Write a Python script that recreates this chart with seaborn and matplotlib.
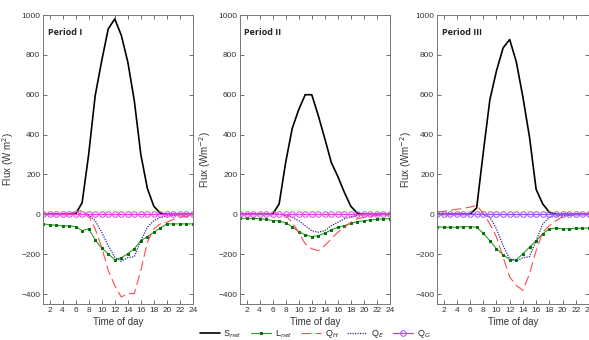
#!/usr/bin/env python3

import pandas as pd
import seaborn as sns
import matplotlib.pyplot as plt

hours = list(range(1, 25))
periods = ["Period I", "Period II", "Period III"]
ylabels = ["Flux (W m$^2$)", "Flux (Wm$^{-2}$)", "Flux (Wm$^{-2}$)"]

# Period I
s_net_1 = [0, 0, 0, 0, 0, 2, 58, 300, 595, 770, 930, 980, 899, 765, 570, 300, 130, 40, 5, 0, 0, 0, 0, 0]
l_net_1 = [-48, -52, -55, -58, -58, -62, -82, -73, -128, -170, -198, -228, -218, -198, -173, -132, -112, -90, -68, -48, -48, -48, -48, -48]
q_h_1 = [0, 0, 2, 4, 6, 12, 20, -7, -73, -165, -282, -357, -415, -398, -398, -282, -140, -73, -48, -40, -25, -15, -10, -5]
q_e_1 = [0, 0, 0, 0, 0, 0, 0, -3, -32, -90, -157, -215, -235, -218, -212, -132, -65, -32, -15, -8, -5, -3, -2, -1]
q_g_1 = [0] * 24

# Period II
s_net_2 = [0, 0, 0, 0, 0, 0, 52, 260, 430, 525, 600, 600, 496, 380, 260, 190, 110, 40, 5, 0, 0, 0, 0, 0]
l_net_2 = [-20, -20, -20, -22, -25, -32, -33, -43, -62, -87, -103, -112, -107, -95, -78, -65, -57, -45, -37, -32, -28, -25, -22, -22]
q_h_2 = [0, 0, 0, 0, 0, 0, 0, -7, -40, -90, -148, -173, -182, -157, -123, -90, -65, -40, -23, -15, -10, -5, -3, -2]
q_e_2 = [0, 0, 0, 0, 0, 0, 0, -2, -15, -32, -57, -82, -90, -82, -57, -40, -23, -12, -5, -3, -2, -1, -1, 0]
q_g_2 = [0] * 24

# Period III
s_net_3 = [0, 0, 0, 0, 0, 0, 32, 310, 575, 720, 835, 877, 765, 588, 387, 125, 52, 10, 0, 0, 0, 0, 0, 0]
l_net_3 = [-62, -65, -65, -65, -62, -62, -65, -95, -132, -173, -203, -228, -228, -198, -165, -132, -98, -73, -70, -73, -73, -70, -70, -68]
q_h_3 = [10, 15, 20, 25, 30, 36, 45, 5, -48, -115, -215, -315, -357, -382, -298, -182, -90, -57, -32, -12, -5, 0, 3, 5]
q_e_3 = [0, 0, 0, 0, 0, 0, 0, 0, -15, -73, -157, -223, -235, -218, -212, -132, -48, -15, -8, -5, -3, -2, -1, 0]
q_g_3 = [0] * 24

data = [
    [s_net_1, l_net_1, q_h_1, q_e_1, q_g_1],
    [s_net_2, l_net_2, q_h_2, q_e_2, q_g_2],
    [s_net_3, l_net_3, q_h_3, q_e_3, q_g_3],
]
names = ["S$_{net}$", "L$_{net}$", "Q$_H$", "Q$_E$", "Q$_G$"]
qg_colors = ["#e040e0", "#d848e0", "#a050e8"]

styles = [
    dict(color="black", linewidth=1.2, linestyle="-"),
    dict(color="#2ca02c", linewidth=0.8, linestyle="-", marker="s", markersize=2,
         markerfacecolor="#0a6e0a", markeredgecolor="#0a6e0a"),
    dict(color="#ff4a4a", linewidth=0.8, linestyle=(0, (9, 4))),
    dict(color="#2a2a9a", linewidth=0.9, linestyle=(0, (1, 1))),
    dict(linewidth=0.9, linestyle="-", marker="o", markersize=4,
         markerfacecolor="none", markeredgewidth=0.7),
]

sns.set_style("ticks")
plt.rcParams["font.family"] = ["Liberation Sans", "DejaVu Sans"]

fig = plt.figure(figsize=(5.89, 3.40), dpi=100)
lefts = [43 / 589, 240 / 589, 437 / 589]
widths = [150 / 589, 150 / 589, 152 / 589]
label_x = [-0.18, -0.18, -0.15]

for i, period in enumerate(periods):
    ax = fig.add_axes([lefts[i], 1 - 304 / 340, widths[i], 289 / 340])
    for name, vals, st in zip(names, data[i], styles):
        st = dict(st)
        if name == "Q$_G$":
            st.update(color=qg_colors[i], markeredgecolor=qg_colors[i])
        df = pd.DataFrame({"hour": hours, "flux": vals})
        sns.lineplot(data=df, x="hour", y="flux", ax=ax, label=name, **st)
    ax.set_xlim(1, 24)
    ax.set_ylim(-450, 1000)
    ax.set_xticks(range(2, 25, 2))
    ax.set_yticks(range(-400, 1001, 200))
    ax.tick_params(direction="in", length=3, width=0.6, labelsize=6,
                   labelcolor="#333333", color="#555555",
                   top=True, right=True, pad=2)
    for sp in ax.spines.values():
        sp.set_color("#777777")
        sp.set_linewidth(0.7)
    ax.set_xlabel("Time of day", fontsize=7, color="#333333", labelpad=2)
    ax.set_ylabel(ylabels[i], fontsize=7, color="#333333")
    ax.yaxis.set_label_coords(label_x[i], 0.5)
    ax.text(0.03, 0.955, period, transform=ax.transAxes, fontsize=6.5,
            fontweight="bold", family="Open Sans", va="top", ha="left")
    handles, labels = ax.get_legend_handles_labels()
    ax.get_legend().remove()

fig.legend(handles, labels, loc="center", ncol=5, frameon=False, fontsize=6.5,
           bbox_to_anchor=(0.535, 1 - 334 / 340), handlelength=2.2,
           columnspacing=1.0, handletextpad=0.4)

plt.savefig("out.png", dpi=100)
